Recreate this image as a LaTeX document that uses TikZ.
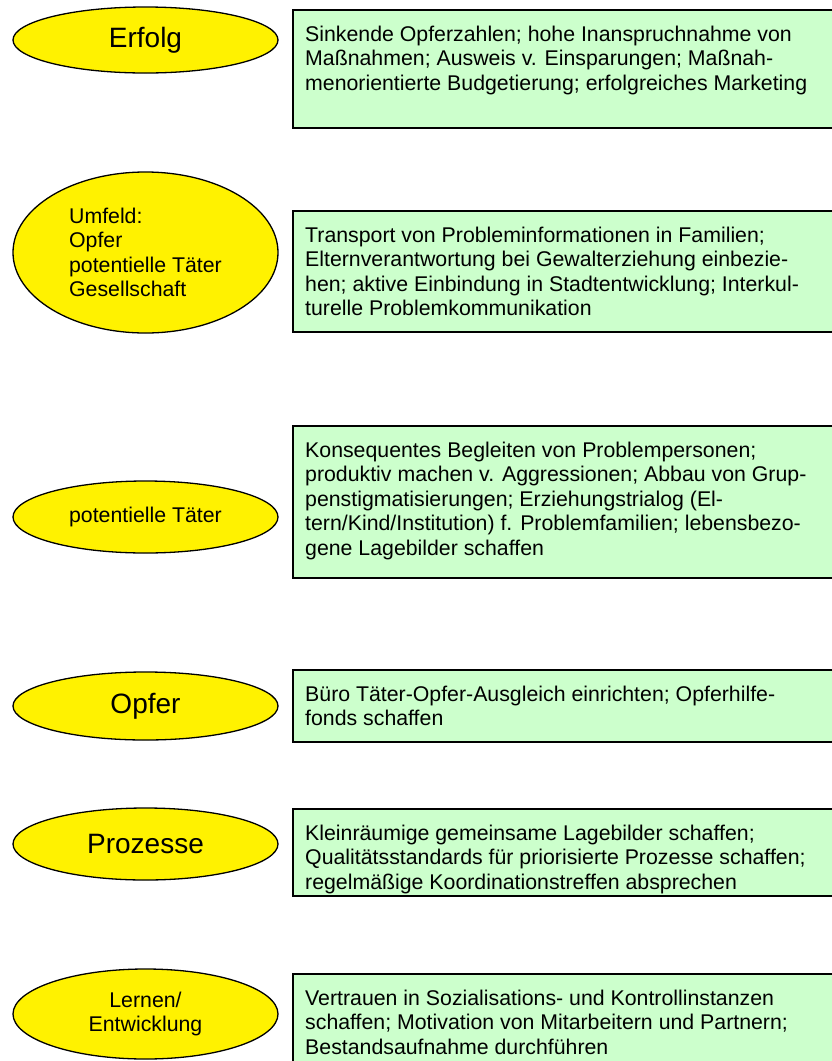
\documentclass[tikz,border=0pt]{standalone}
\usepackage{fontspec}
\setmainfont{Liberation Sans}
\usetikzlibrary{shapes.geometric,positioning}
\definecolor{boxgreen}{HTML}{CCFFCC}
\begin{document}
\begin{tikzpicture}[x=1pt, y=-1pt,
    every node/.style={inner sep=0pt},
    oval/.style={ellipse, draw, line width=1.3pt, fill=yellow, minimum width=265pt, minimum height=72pt, font=\fontsize{21.3}{24.5}\selectfont},
    gross/.style={font=\fontsize{28}{32}\selectfont},
    massnahme/.style={rectangle, draw, line width=1.5pt, fill=boxgreen, minimum width=560pt, anchor=north west},
    liste/.style={align=left, font=\fontsize{21.3}{24.5}\selectfont, below right=16.5pt and 13pt of #1.north west}]
    \useasboundingbox (0,0) rectangle (832,1061);
    \node[oval, gross, minimum height=66pt] (erfolg) at (145.5,40) {Erfolg};
    \node[oval, minimum height=161pt, align=left] (umfeld) at (145.5,252.5) {Umfeld:\\Opfer\\potentielle Täter\\Gesellschaft};
    \node[oval] (taeter) at (145.5,517) {potentielle Täter};
    \node[oval, gross, minimum height=68pt] (opfer) at (145.5,706) {Opfer};
    \node[oval, gross] (prozesse) at (145.5,844) {Prozesse};
    \node[oval, minimum height=90pt, align=center] (lernen) at (145.5,1014) {Lernen/\\Entwicklung};
    \node[massnahme, minimum height=118pt] (erfolgbox) at (292,9) {};
    \node[liste=erfolgbox] (erfolgtext) {Sinkende Opferzahlen; hohe Inanspruchnahme von\\Maßnahmen; Ausweis v. Einsparungen; Maßnah-\\menorientierte Budgetierung; erfolgreiches Marketing};
    \node[massnahme, minimum height=121pt] (umfeldbox) at (292,210) {};
    \node[liste=umfeldbox] (umfeldtext) {Transport von Probleminformationen in Familien;\\Elternverantwortung bei Gewalterziehung einbezie-\\hen; aktive Einbindung in Stadtentwicklung; Interkul-\\turelle Problemkommunikation};
    \node[massnahme, minimum height=152pt] (taeterbox) at (292,425) {};
    \node[liste=taeterbox] (taetertext) {Konsequentes Begleiten von Problempersonen;\\produktiv machen v. Aggressionen; Abbau von Grup-\\penstigmatisierungen; Erziehungstrialog (El-\\tern/Kind/Institution) f. Problemfamilien; lebensbezo-\\gene Lagebilder schaffen};
    \node[massnahme, minimum height=72pt] (opferbox) at (292,669) {};
    \node[liste=opferbox] (opfertext) {Büro Täter-Opfer-Ausgleich einrichten; Opferhilfe-\\fonds schaffen};
    \node[massnahme, minimum height=87pt] (prozessebox) at (292,808) {};
    \node[liste=prozessebox] (prozessetext) {Kleinräumige gemeinsame Lagebilder schaffen;\\Qualitätsstandards für priorisierte Prozesse schaffen;\\regelmäßige Koordinationstreffen absprechen};
    \node[massnahme, minimum height=110pt] (lernenbox) at (292,973) {};
    \node[liste=lernenbox] (lernentext) {Vertrauen in Sozialisations- und Kontrollinstanzen\\schaffen; Motivation von Mitarbeitern und Partnern;\\Bestandsaufnahme durchführen};
\end{tikzpicture}
\end{document}
